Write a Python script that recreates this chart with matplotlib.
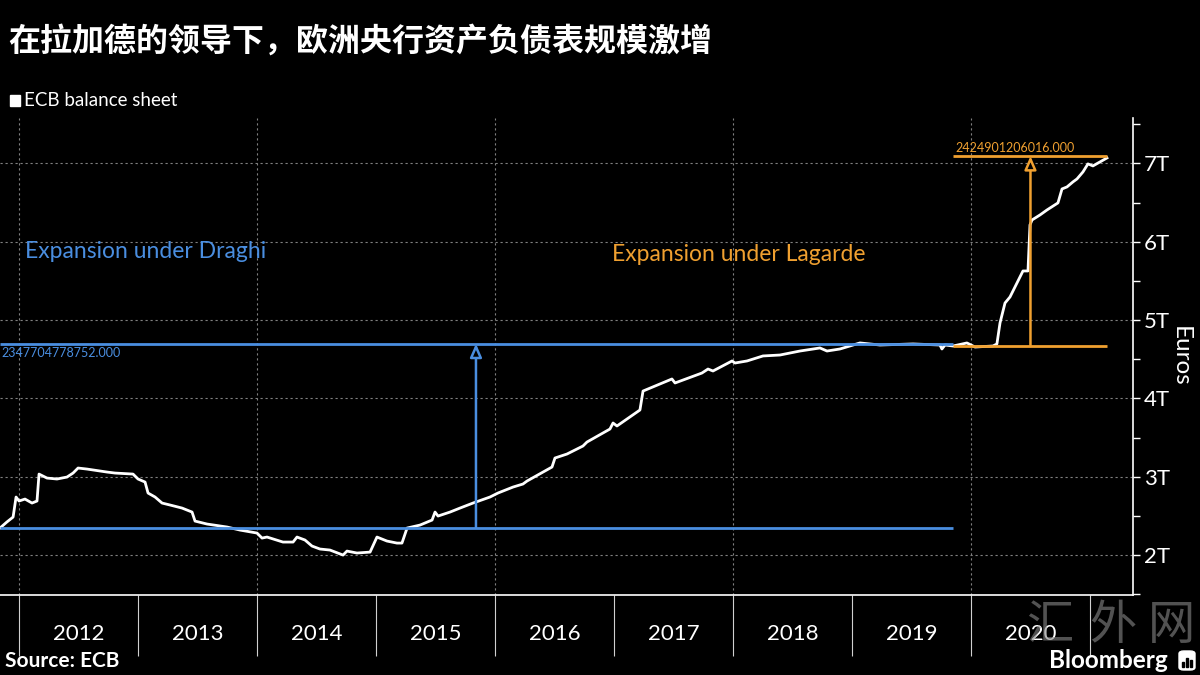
import matplotlib
matplotlib.use("Agg")
import matplotlib.pyplot as plt
from matplotlib.patches import Rectangle, FancyBboxPatch

# ---------------- data (decimal year, trillions of euros) ----------------
years = [2011.840, 2011.897, 2011.950, 2011.975, 2012.000, 2012.050, 2012.109, 2012.151,
         2012.168, 2012.235, 2012.319, 2012.403, 2012.454, 2012.496, 2012.571, 2012.681,
         2012.739, 2012.807, 2012.958, 2013.000, 2013.059, 2013.084, 2013.143, 2013.202,
         2013.269, 2013.370, 2013.454, 2013.479, 2013.580, 2013.748, 2013.857, 2014.000,
         2014.042, 2014.084, 2014.218, 2014.303, 2014.336, 2014.403, 2014.462, 2014.529,
         2014.613, 2014.723, 2014.756, 2014.840, 2014.950, 2015.008, 2015.092, 2015.176,
         2015.218, 2015.261, 2015.370, 2015.471, 2015.496, 2015.521, 2015.622, 2015.706,
         2015.815, 2015.958, 2016.025, 2016.151, 2016.235, 2016.269, 2016.479, 2016.504,
         2016.605, 2016.739, 2016.773, 2016.966, 2016.992, 2017.025, 2017.218, 2017.244,
         2017.487, 2017.513, 2017.739, 2017.790, 2017.832, 2017.992, 2018.017, 2018.118,
         2018.252, 2018.395, 2018.563, 2018.731, 2018.790, 2018.899, 2019.067, 2019.235,
         2019.513, 2019.739, 2019.756, 2019.782, 2019.849, 2019.966, 2020.034, 2020.185,
         2020.218, 2020.244, 2020.286, 2020.328, 2020.437, 2020.479, 2020.496, 2020.513,
         2020.580, 2020.639, 2020.731, 2020.765, 2020.807, 2020.857, 2020.891, 2020.941,
         2020.983, 2021.025, 2021.143]
balance_t = [2.345, 2.421, 2.485, 2.741, 2.690, 2.715, 2.664, 2.690,
             3.034, 2.983, 2.971, 2.996, 3.047, 3.111, 3.098, 3.073,
             3.060, 3.047, 3.034, 2.971, 2.932, 2.792, 2.741, 2.664,
             2.639, 2.600, 2.549, 2.434, 2.396, 2.358, 2.319, 2.281,
             2.217, 2.230, 2.166, 2.166, 2.230, 2.192, 2.115, 2.077,
             2.064, 2.000, 2.051, 2.026, 2.038, 2.230, 2.179, 2.153,
             2.153, 2.345, 2.383, 2.447, 2.549, 2.498, 2.549, 2.600,
             2.664, 2.741, 2.792, 2.868, 2.907, 2.945, 3.124, 3.239,
             3.290, 3.392, 3.443, 3.609, 3.686, 3.648, 3.852, 4.094,
             4.248, 4.197, 4.324, 4.375, 4.350, 4.478, 4.452, 4.478,
             4.542, 4.554, 4.605, 4.644, 4.605, 4.631, 4.708, 4.682,
             4.695, 4.682, 4.631, 4.682, 4.669, 4.708, 4.656, 4.669,
             4.695, 4.963, 5.218, 5.295, 5.627, 5.627, 6.215, 6.278,
             6.342, 6.406, 6.496, 6.674, 6.700, 6.764, 6.802, 6.891,
             6.994, 6.968, 7.070]

year_labels = ["2012", "2013", "2014", "2015", "2016", "2017", "2018", "2019", "2020"]
ytick_values = [2, 3, 4, 5, 6, 7]
ytick_labels = ["2T", "3T", "4T", "5T", "6T", "7T"]

draghi_start_date, draghi_end_date = 2011.84, 2019.85
draghi_start_val = 2.350
draghi_gain = 2.347704778752
draghi_arrow_date = 2015.84
draghi_label = "2347704778752.000"

lagarde_start_date, lagarde_end_date = 2019.85, 2021.143
lagarde_start_val = 4.668
lagarde_gain = 2.424901206016
lagarde_arrow_date = 2020.50
lagarde_label = "2424901206016.000"

title = "在拉加德的领导下，欧洲央行资产负债表规模激增"

# ---------------- style ----------------
BLUE = "#4a8ee0"
ORANGE = "#f0a030"
GRID = "#808080"
FONT = ["Lato", "DejaVu Sans"]
plt.rcParams["font.family"] = FONT

fig = plt.figure(figsize=(12, 6.75), dpi=100, facecolor="black")
ax = fig.add_axes([0.0, 0.1185, 0.944, 0.7067])
ax.set_facecolor("black")

ax.set_xlim(2011.84, 2021.36)
ax.set_ylim(1.49, 7.58)

# grid
for y in ytick_values:
    ax.axhline(y, color=GRID, lw=0.8, ls=(0, (2, 2.5)), zorder=1)
for yr in [2012, 2014, 2016, 2018, 2020]:
    ax.axvline(yr, color=GRID, lw=0.8, ls=(0, (2, 2.5)), zorder=1)

# series
ax.plot(years, balance_t, color="white", lw=2.0, zorder=3, solid_joinstyle="round")

# Draghi annotation
d_low = draghi_start_val
d_high = draghi_start_val + draghi_gain
ax.hlines([d_low, d_high], draghi_start_date, draghi_end_date, color=BLUE, lw=2, zorder=4)
ax.annotate("", xy=(draghi_arrow_date, d_high), xytext=(draghi_arrow_date, d_low),
            arrowprops=dict(arrowstyle="-|>,head_length=0.8,head_width=0.35",
                            ec=BLUE, fc="black", lw=1.8, shrinkA=0, shrinkB=0),
            zorder=5)
ax.text(draghi_start_date + 0.015, d_high - 0.04, draghi_label, color=BLUE,
        fontsize=9, va="top", ha="left", zorder=5)
ax.text(2012.05, 5.88, "Expansion under Draghi", color=BLUE, fontsize=16.5,
        va="center", ha="left", zorder=5)

# Lagarde annotation
l_low = lagarde_start_val
l_high = lagarde_start_val + lagarde_gain
ax.hlines([l_low, l_high], lagarde_start_date, lagarde_end_date, color=ORANGE, lw=2, zorder=4)
ax.annotate("", xy=(lagarde_arrow_date, l_high), xytext=(lagarde_arrow_date, l_low),
            arrowprops=dict(arrowstyle="-|>,head_length=0.8,head_width=0.35",
                            ec=ORANGE, fc="black", lw=1.8, shrinkA=0, shrinkB=0),
            zorder=5)
ax.text(lagarde_start_date + 0.015, l_high + 0.03, lagarde_label, color=ORANGE,
        fontsize=9, va="bottom", ha="left", zorder=5)
ax.text(2016.98, 5.84, "Expansion under Lagarde", color=ORANGE, fontsize=16.5,
        va="center", ha="left", zorder=5)

# spines
for s in ["top", "left"]:
    ax.spines[s].set_visible(False)
for s in ["bottom", "right"]:
    ax.spines[s].set_color("white")
    ax.spines[s].set_linewidth(1.2)

# y axis on right
ax.yaxis.tick_right()
ax.set_yticks(ytick_values)
ax.set_yticklabels(ytick_labels)
ax.set_yticks([v + 0.5 for v in [1] + ytick_values], minor=True)
ax.tick_params(axis="y", which="major", colors="white", labelcolor="white",
               labelsize=16, length=5, width=1, pad=3, direction="out")
ax.tick_params(axis="y", which="minor", colors="white", length=5, width=1, direction="out")
ax.yaxis.set_label_position("right")
ax.set_ylabel("Euros", color="white", fontsize=17.5, rotation=270, labelpad=15)

# x axis: separators at year starts, labels at mid-year
ax.set_xticks(list(range(2012, 2022)))
ax.set_xticklabels([""] * 10)
ax.set_xticks([int(l) + 0.5 for l in year_labels], minor=True)
ax.set_xticklabels(year_labels, minor=True)
ax.tick_params(axis="x", which="major", colors="#d0d0d0", length=44, width=0.8, direction="out")
ax.tick_params(axis="x", which="minor", length=0, labelsize=16, labelcolor="white", pad=21)

# title & legend
fig.text(0.007, 0.938, title, color="white", fontsize=23, fontweight="bold",
         family=["Noto Sans CJK SC", "DejaVu Sans"], va="center", ha="left")
fig.patches.append(Rectangle((10 / 1200, 1 - 106 / 675), 10 / 1200, 11 / 675,
                             transform=fig.transFigure, color="white", figure=fig))
fig.text(24 / 1200, 1 - 101 / 675, "ECB balance sheet", color="white", fontsize=13.5,
         va="center", ha="left")

# footer
fig.text(5 / 1200, 1 - 661 / 675, "Source: ECB", color="white", fontsize=15,
         fontweight="bold", va="center", ha="left")
fig.text(1168 / 1200, 1 - 660 / 675, "Bloomberg", color="white", fontsize=17.5,
         fontweight="bold", va="center", ha="right")
fig.patches.append(FancyBboxPatch((1179 / 1200, 1 - 670 / 675), 16 / 1200, 19 / 675,
                                  boxstyle="round,pad=0,rounding_size=0.004",
                                  transform=fig.transFigure, color="white", figure=fig))
for i, h in enumerate([5, 9, 7]):
    fig.patches.append(Rectangle(((1182 + 4 * i) / 1200, 1 - 667 / 675), 2 / 1200, h / 675,
                                 transform=fig.transFigure, color="black", figure=fig))

# watermark (present in the reference image)
for ch, xc in zip("汇外网", [1050, 1113, 1171]):
    fig.text(xc / 1200, 1 - 626 / 675, ch, color="#8a8a8a", alpha=0.6, fontsize=34,
             family=["Noto Sans CJK SC", "DejaVu Sans"], fontweight="light",
             va="center", ha="center")

fig.savefig("out.png", dpi=100, facecolor="black")
